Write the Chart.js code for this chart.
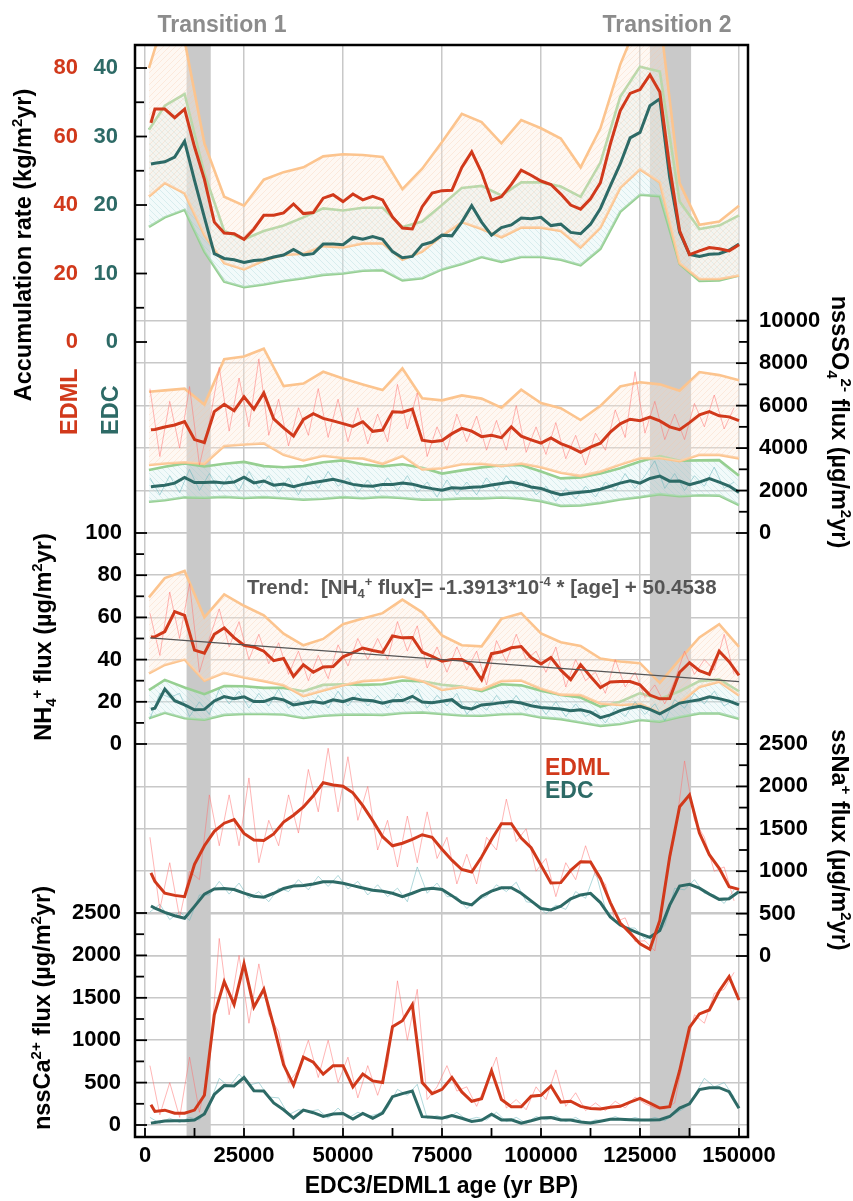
<!DOCTYPE html>
<html lang="en">
<head>
<meta charset="UTF-8" />
<title>EDML / EDC accumulation and ion fluxes</title>
<script src="https://cdn.jsdelivr.net/npm/chart.js@4"></script>
<style>
  body { margin: 0; background: #fff; }
</style>
</head>
<body>
<canvas id="fluxChart" width="853" height="1201"></canvas>
<script>
// ---- ages (yr BP) ----
const AGE = [1500, 2500, 5000, 7500, 10000, 12500, 15000, 17500, 20000, 22500,
  25000, 27500, 30000, 32500, 35000, 37500, 40000, 42500, 45000, 47500,
  50000, 52500, 55000, 57500, 60000, 62500, 65000, 67500, 70000, 72500,
  75000, 77500, 80000, 82500, 85000, 87500, 90000, 92500, 95000, 97500,
  100000, 102500, 105000, 107500, 110000, 112500, 115000, 117500, 120000, 122500,
  125000, 127500, 130000, 132500, 135000, 137500, 140000, 142500, 145000, 147500,
  150000];
const E_AGE = [1000, 5000, 10000, 15000, 20000, 25000, 30000, 35000, 40000, 45000,
  50000, 55000, 60000, 65000, 70000, 75000, 80000, 85000, 90000, 95000,
  100000, 105000, 110000, 115000, 120000, 125000, 130000, 135000, 140000, 145000, 150000];
const R_AGE = [1250, 3750, 6250, 8750, 11250, 13750, 16250, 18750, 21250, 23750,
  26250, 28750, 31250, 33750, 36250, 38750, 41250, 43750, 46250, 48750,
  51250, 53750, 56250, 58750, 61250, 63750, 66250, 68750, 71250, 73750,
  76250, 78750, 81250, 83750, 86250, 88750, 91250, 93750, 96250, 98750,
  101250, 103750, 106250, 108750, 111250, 113750, 116250, 118750, 121250, 123750,
  126250, 128750, 131250, 133750, 136250, 138750, 141250, 143750, 146250, 148750];

// ---- accumulation rate (EDML kg/m2yr, EDC kg/m2yr) ----
const ACC_EDML = [64, 68, 68, 65.5, 68, 57, 47.5, 35, 31.8, 31.6,
  30, 33, 37, 37, 37.7, 40.3, 37.5, 37.8, 42, 43,
  41, 43.2, 41.5, 42.5, 41.5, 36.5, 33.3, 33, 39.5, 43.5,
  44.2, 44.3, 51, 55.5, 49.5, 41.4, 42.4, 46, 50.2, 48.7,
  47, 46, 43.2, 40, 38.8, 41.8, 46.5, 57.8, 67.5, 72.6,
  73.7, 78, 73, 51, 32.5, 25.5, 26.6, 27.6, 27.2, 26.6,
  28.4];
const ACC_EDC = [26, 26.1, 26.3, 27, 29.3, 23.6, 18.2, 12.9, 12.2, 12,
  11.6, 11.9, 12, 12.4, 12.7, 13.5, 12.7, 12.9, 14.3, 14.3,
  14.2, 15.3, 15, 15.4, 15, 13.2, 12.3, 12.5, 14.2, 14.6,
  15.6, 15.5, 17.5, 19.9, 17.5, 15.6, 16.7, 17.1, 18.1, 18,
  18.2, 17, 17.2, 16, 15.8, 17.2, 19.5, 22.8, 26, 29.8,
  30.6, 34.5, 35.5, 24, 16, 12.8, 12.5, 12.8, 12.9, 13.4,
  14.3];
const ACC_ML_UP = [80, 95, 88, 58, 42.4, 39.8, 47.4, 49.6, 51, 54.2,
  54.8, 54.6, 54, 44.6, 50.6, 58.4, 66.6, 64.2, 58, 64.8,
  62.4, 59.4, 51, 62.4, 81, 95, 95, 46.4, 34.2, 35.2, 39.8];
const ACC_ML_LO = [42.5, 46.4, 43.4, 31.2, 23, 21.2, 23.8, 25.4, 25.8, 28,
  27.6, 28.8, 28.8, 24, 26.4, 31, 35, 33, 30.6, 33.4,
  33.4, 32.4, 27.6, 33.4, 45, 50.4, 46.6, 23, 18.4, 18.4, 19.4];
const ACC_DC_UP = [31, 34.5, 36.2, 24.6, 16.2, 15, 16.2, 17, 18.2, 19.5,
  19.2, 19.6, 19.6, 16.8, 17.6, 20, 22.5, 22.8, 21.4, 23.3,
  23.3, 22.7, 21.2, 26.2, 35.8, 40.2, 39.5, 20.5, 16.5, 17, 18.5];
const ACC_DC_LO = [16.8, 18.2, 19.3, 13.2, 8.8, 8, 8.4, 8.9, 9.3, 9.8,
  10, 10.4, 10.5, 9, 9.3, 10.6, 11.4, 12.4, 11.7, 12.4,
  12.4, 12, 11.2, 13.6, 19, 21.5, 21.3, 11.4, 8.9, 9, 9.7];

// ---- nssSO4 flux (ug/m2yr) ----
const SO4_ML = [4860, 4880, 4990, 5090, 5250, 4400, 4260, 5720, 6060, 5760,
  6420, 5830, 6600, 5380, 4950, 4570, 5350, 5620, 5400, 5280,
  5150, 5020, 5240, 4790, 4850, 5710, 5690, 5840, 4370, 4300,
  4360, 4680, 4930, 4800, 4540, 4600, 4490, 5000, 4560, 4390,
  4230, 4480, 4210, 4030, 3800, 4040, 4230, 4750, 5140, 5360,
  5290, 5460, 5280, 5000, 4870, 5200, 5570, 5720, 5520, 5470,
  5290];
const SO4_DC = [2180, 2200, 2250, 2350, 2620, 2380, 2380, 2400, 2360, 2400,
  2630, 2360, 2450, 2250, 2310, 2180, 2300, 2380, 2450, 2530,
  2420, 2290, 2230, 2200, 2290, 2290, 2360, 2300, 2180, 2090,
  2020, 2130, 2110, 2150, 2180, 2260, 2330, 2400, 2300, 2170,
  2100, 1930, 1800, 1870, 1920, 1970, 2060, 2200, 2350, 2460,
  2350, 2570, 2680, 2440, 2450, 2280, 2400, 2560, 2400, 2210,
  1914];
const SO4_ML_UP = [6650, 6720, 6800, 6050, 8190, 8310, 8680, 6920, 7040, 7594,
  7280, 7000, 6730, 7750, 6350, 6250, 6480, 6330, 5900, 6750,
  6120, 5880, 5320, 5990, 6900, 7100, 7000, 6700, 7580, 7437, 7200];
const SO4_ML_LO = [3200, 3270, 3330, 3260, 4100, 4170, 4220, 3680, 3420, 3640,
  3530, 3515, 3260, 3630, 2990, 3050, 3240, 3260, 3150, 3270,
  3100, 2840, 2690, 2900, 3220, 3520, 3530, 3380, 3680, 3680, 3515];
const SO4_DC_UP = [2965, 3120, 3280, 3130, 3260, 3350, 3150, 3100, 3150, 3330,
  3420, 3240, 3140, 3240, 3070, 2800, 2950, 3090, 3190, 3200,
  2900, 2573, 2620, 2800, 3050, 3370, 3620, 3400, 3420, 3430, 2700];
const SO4_DC_LO = [1475, 1540, 1680, 1660, 1700, 1650, 1690, 1640, 1570, 1610,
  1690, 1640, 1700, 1650, 1570, 1580, 1630, 1630, 1670, 1630,
  1500, 1280, 1300, 1420, 1580, 1690, 1830, 1730, 1780, 1760, 1320];
const SO4_ML_RAW = [6800, 3600, 6200, 4000, 6900, 3200, 5200, 7800, 4800, 7300,
  5000, 8200, 4600, 6300, 4100, 5900, 4600, 6800, 4500, 6300,
  4300, 5900, 4200, 5600, 4300, 7000, 4900, 6600, 3600, 5000,
  3900, 5600, 4300, 5500, 3900, 5300, 3900, 6000, 3800, 5000,
  3700, 5200, 3500, 4600, 3200, 4700, 3900, 5800, 4500, 7600,
  4700, 6200, 4400, 5600, 4400, 6100, 5000, 6500, 4900, 5900];
const SO4_DC_RAW = [2600, 1800, 2700, 1900, 3000, 2000, 2800, 2000, 2700, 2000,
  2900, 2100, 2700, 1900, 2600, 1800, 2700, 2100, 2900, 2200,
  2600, 1900, 2500, 1900, 2600, 2000, 2700, 1900, 2400, 1700,
  2500, 1800, 2400, 1800, 2600, 2000, 2700, 2100, 2500, 1800,
  2200, 1500, 2100, 1600, 2200, 1700, 2400, 2000, 2800, 2100,
  2700, 3400, 2100, 2800, 2000, 2700, 2200, 3100, 2100, 2400];

// ---- NH4 flux (ug/m2yr) ----
const NH4_ML = [50.7, 50.8, 53.3, 62.7, 61, 44.5, 43, 52, 55, 50.4,
  46.8, 46, 44, 39.5, 40.5, 32, 37.5, 34, 36.5, 36.7,
  41.3, 43.3, 45.5, 44.3, 43.4, 51.2, 50.3, 50.5, 43.5, 41.5,
  39.2, 40, 40.1, 37.5, 30.4, 42.8, 43.7, 45.6, 46.2, 41,
  37.9, 41, 35, 30.5, 37.6, 32, 26.7, 29.4, 29.6, 29.6,
  28, 23.2, 21.4, 21.5, 34, 38.5, 34.8, 33, 44, 39,
  32.5];
const NH4_DC = [16.5, 17, 26, 20.5, 18.5, 16.2, 16.4, 20.4, 22.5, 21.5,
  22.4, 20.1, 20.1, 21.8, 20.9, 18.5, 19.3, 20.1, 19.3, 20.9,
  20.1, 21.7, 20.8, 20.5, 19.3, 20.5, 20.6, 22.6, 19.9, 19.5,
  20.3, 21, 17.4, 16.6, 18.5, 18.9, 19.6, 20.1, 19.4, 18.1,
  17.3, 16.9, 16.6, 15.8, 16.2, 15.1, 12.5, 13.8, 15.8, 17.1,
  17.9, 16.4, 14.3, 16.8, 19.4, 20.2, 21, 22.4, 21.5, 20.3,
  18.5];
const NH4_ML_UP = [69.5, 78.6, 82, 60, 70.9, 65.5, 61, 52.3, 46.8, 49.8,
  56.8, 59.5, 62, 68.4, 62.4, 51.5, 46.8, 46.3, 59.3, 62,
  52.4, 48.2, 46.5, 40.5, 39.1, 38.3, 29, 40, 50.5, 56.8, 46];
const NH4_ML_LO = [33.5, 37.5, 40, 30, 33.7, 31.5, 29.8, 27.8, 22.7, 25.3,
  27.8, 29.8, 30.4, 32, 29.8, 25.6, 27, 25.8, 29.8, 30.1,
  26.2, 23.4, 23.2, 19.2, 18.5, 19, 14.7, 19.5, 27, 29.5, 23];
const NH4_DC_UP = [25.5, 30.4, 26.8, 23.6, 27.5, 27.4, 26.6, 26.6, 25, 28,
  28.3, 28, 28.3, 30.1, 29.7, 28.1, 27.2, 25, 28.3, 27.8,
  25.3, 23.2, 22, 17.7, 20, 24.1, 21.4, 25, 29.8, 30.6, 25];
const NH4_DC_LO = [12.2, 14.8, 12.2, 11.5, 13.8, 14.2, 14.2, 14, 12.3, 13.4,
  13.9, 14, 13.8, 14.7, 15, 14.2, 13.5, 13.4, 14.1, 14.3,
  12.6, 11.8, 10.2, 8.6, 9.5, 11.4, 10.6, 12.8, 14.5, 14.5, 12];
const NH4_ML_RAW = [62, 42, 72, 50, 76, 34, 50, 64, 46, 58,
  40, 52, 38, 48, 33, 44, 30, 42, 31, 47,
  37, 50, 40, 50, 40, 58, 44, 56, 36, 46,
  34, 46, 35, 44, 28, 49, 39, 52, 40, 44,
  34, 46, 27, 40, 30, 34, 24, 40, 27, 34,
  22, 28, 19, 30, 44, 33, 40, 35, 52, 33];
const NH4_DC_RAW = [12, 24, 22, 24, 13, 20, 14, 26, 19, 25,
  17, 24, 18, 26, 17, 21, 16, 23, 17, 25,
  18, 24, 18, 23, 17, 24, 19, 26, 17, 23,
  18, 24, 14, 20, 16, 23, 17, 23, 16, 21,
  14, 20, 13, 19, 13, 16, 10, 17, 13, 20,
  14, 19, 11, 21, 17, 24, 19, 25, 18, 21];
// linear trend of the NH4 flux, end points
const TREND_AGE = [1300, 150000];
const TREND = [50.27, 29.59];

// ---- ssNa flux (ug/m2yr) ----
const NA_ML = [980, 880, 740, 715, 700, 1080, 1300, 1470, 1566, 1608,
  1445, 1367, 1362, 1440, 1580, 1660, 1757, 1890, 2043, 2017,
  2002, 1925, 1773, 1596, 1407, 1300, 1330, 1375, 1430, 1400,
  1260, 1130, 1020, 990, 1167, 1375, 1560, 1560, 1390, 1277,
  1070, 860, 865, 1010, 1112, 1110, 915, 630, 390, 270,
  145, 80, 420, 1170, 1760, 1900, 1450, 1195, 1034, 817,
  786];
const NA_DC = [590, 565, 515, 475, 445, 585, 730, 790, 797, 784,
  742, 705, 694, 740, 797, 825, 832, 850, 875, 876,
  857, 830, 802, 776, 763, 740, 700, 740, 785, 798,
  785, 712, 630, 603, 705, 765, 805, 805, 740, 650,
  560, 543, 587, 675, 720, 739, 630, 460, 365, 310,
  260, 220, 300, 600, 825, 845, 800, 730, 668, 675,
  760];
const NA_ML_RAW = [1400, 550, 1100, 450, 1000, 900, 1900, 1300, 1900, 1300,
  2100, 1100, 1600, 1300, 1900, 1450, 2200, 1700, 2450, 1700,
  2350, 1600, 2000, 1250, 1600, 1050, 1650, 1100, 1700, 1150,
  1400, 850, 1200, 850, 1400, 1250, 1850, 1350, 1500, 1000,
  1150, 700, 1100, 900, 1300, 950, 850, 400, 450, 170,
  180, 60, 850, 1400, 2300, 1600, 1400, 1000, 1050, 650];
const NA_DC_RAW = [520, 610, 430, 520, 420, 720, 720, 880, 730, 860,
  680, 760, 640, 800, 760, 900, 780, 940, 820, 950,
  790, 880, 720, 840, 700, 800, 640, 1050, 740, 860,
  700, 700, 560, 660, 700, 840, 760, 870, 640, 620,
  500, 600, 550, 760, 680, 1000, 560, 420, 330, 330,
  200, 240, 360, 800, 780, 900, 740, 720, 620, 780];

// ---- nssCa flux (ug/m2yr) ----
const CA_ML = [240, 160, 175, 138, 140, 176, 350, 1300, 1690, 1420,
  1900, 1390, 1600, 1170, 710, 470, 800, 740, 600, 700,
  700, 450, 600, 520, 500, 1159, 1230, 1420, 500, 370,
  420, 560, 390, 280, 310, 640, 300, 215, 215, 340,
  350, 460, 270, 280, 220, 195, 190, 210, 220, 270,
  314, 258, 200, 216, 640, 1150, 1310, 1356, 1580, 1749,
  1474];
const CA_DC = [22, 30, 48, 51, 51, 58, 130, 360, 465, 460,
  560, 405, 400, 260, 180, 82, 175, 145, 100, 130,
  135, 70, 137, 80, 140, 334, 370, 400, 98, 90,
  80, 112, 79, 42, 57, 127, 60, 62, 22, 50,
  82, 89, 59, 59, 35, 24, 45, 67, 67, 63,
  59, 59, 62, 100, 200, 250, 418, 440, 440, 393,
  197];
const CA_ML_RAW = [700, 120, 500, 90, 800, 150, 700, 2200, 1300, 2000,
  1200, 1900, 1300, 1100, 500, 650, 1000, 560, 1000, 500,
  800, 320, 700, 350, 700, 1700, 1000, 1600, 300, 450,
  700, 400, 450, 220, 500, 800, 200, 300, 180, 450,
  300, 650, 220, 380, 170, 260, 170, 280, 200, 330,
  250, 200, 190, 260, 850, 1300, 1200, 1550, 1600, 1800];
const CA_DC_RAW = [90, 20, 80, 30, 90, 60, 250, 550, 450, 600,
  470, 500, 330, 320, 120, 180, 160, 180, 80, 200,
  80, 150, 100, 130, 200, 420, 350, 480, 80, 110,
  70, 150, 60, 90, 60, 150, 40, 90, 20, 100,
  60, 110, 40, 90, 20, 60, 50, 100, 50, 90,
  50, 90, 50, 130, 200, 350, 550, 450, 500, 330];

// ---- axes ----
const X_TICKS = [0, 25000, 50000, 75000, 100000, 125000, 150000];
const ACC_TICKS = [0, 10, 20, 30, 40];
const ACC_ML_TICKS = [0, 20, 40, 60, 80];
const SO4_TICKS = [0, 2000, 4000, 6000, 8000, 10000];
const NH4_TICKS = [0, 20, 40, 60, 80, 100];
const NA_TICKS = [0, 500, 1000, 1500, 2000, 2500];
const CA_TICKS = [0, 500, 1000, 1500, 2000, 2500];
const TRANSITIONS = [[10500, 16600], [127500, 137900]];

const FONT = '"Liberation Sans", Arial, Helvetica, sans-serif';
const RED = '#d1391b', TEAL = '#2d6a66';
const ORANGE = '#fcc48e', GREEN = '#96cf91';
const RED_RAW = 'rgba(255,110,110,0.5)', TEAL_RAW = 'rgba(100,180,186,0.5)';
const GRID = '#c8c8c8', BAND = '#c9c9c9';

const canvas = document.getElementById('fluxChart');
const ctx = canvas.getContext('2d');

// hatched fill for the uncertainty envelopes
function hatch(bg, stroke, flip) {
  const c = document.createElement('canvas');
  c.width = c.height = 6;
  const g = c.getContext('2d');
  g.fillStyle = bg;
  g.fillRect(0, 0, 6, 6);
  g.strokeStyle = stroke;
  g.lineWidth = 1;
  g.beginPath();
  if (flip) {
    g.moveTo(0, 0); g.lineTo(6, 6); g.moveTo(-1, 5); g.lineTo(1, 7); g.moveTo(5, -1); g.lineTo(7, 1);
  } else {
    g.moveTo(0, 6); g.lineTo(6, 0); g.moveTo(-1, 1); g.lineTo(1, -1); g.moveTo(5, 7); g.lineTo(7, 5);
  }
  g.stroke();
  return ctx.createPattern(c, 'repeat');
}
const FILL_ML = hatch('rgba(253,235,220,0.35)', 'rgba(247,195,160,0.28)', false);
const FILL_DC = hatch('rgba(218,240,242,0.35)', 'rgba(150,205,210,0.28)', true);

const pts = (ages, vals) => ages.map((a, i) => ({ x: a, y: vals[i] }));
function line(ages, vals, axis, color, width, order, extra) {
  return Object.assign({
    data: pts(ages, vals), yAxisID: axis, borderColor: color, borderWidth: width,
    pointRadius: 0, tension: 0, fill: false, order: order
  }, extra || {});
}
function envelope(up, lo, axis, color, fillStyle) {
  return [
    line(E_AGE, up, axis, color, 2.6, 4, { fill: '+1', backgroundColor: fillStyle }),
    line(E_AGE, lo, axis, color, 2.6, 4)
  ];
}

const datasets = [
  ...envelope(ACC_ML_UP, ACC_ML_LO, 'yAccML', ORANGE, FILL_ML),
  ...envelope(ACC_DC_UP, ACC_DC_LO, 'yAcc', GREEN, FILL_DC),
  ...envelope(SO4_ML_UP, SO4_ML_LO, 'ySO4', ORANGE, FILL_ML),
  ...envelope(SO4_DC_UP, SO4_DC_LO, 'ySO4', GREEN, FILL_DC),
  ...envelope(NH4_ML_UP, NH4_ML_LO, 'yNH4', ORANGE, FILL_ML),
  ...envelope(NH4_DC_UP, NH4_DC_LO, 'yNH4', GREEN, FILL_DC),
  line(R_AGE, SO4_ML_RAW, 'ySO4', RED_RAW, 1, 3),
  line(R_AGE, SO4_DC_RAW, 'ySO4', TEAL_RAW, 1, 3),
  line(R_AGE, NH4_ML_RAW, 'yNH4', RED_RAW, 1, 3),
  line(R_AGE, NH4_DC_RAW, 'yNH4', TEAL_RAW, 1, 3),
  line(R_AGE, NA_ML_RAW, 'yNa', RED_RAW, 1, 3),
  line(R_AGE, NA_DC_RAW, 'yNa', TEAL_RAW, 1, 3),
  line(R_AGE, CA_ML_RAW, 'yCa', RED_RAW, 1, 3),
  line(R_AGE, CA_DC_RAW, 'yCa', TEAL_RAW, 1, 3),
  line(AGE, ACC_EDML, 'yAccML', RED, 3, 1),
  line(AGE, ACC_EDC, 'yAcc', TEAL, 3, 1),
  line(AGE, SO4_ML, 'ySO4', RED, 3, 1),
  line(AGE, SO4_DC, 'ySO4', TEAL, 3, 1),
  line(AGE, NH4_ML, 'yNH4', RED, 3, 1),
  line(AGE, NH4_DC, 'yNH4', TEAL, 3, 1),
  line(AGE, NA_ML, 'yNa', RED, 3, 1),
  line(AGE, NA_DC, 'yNa', TEAL, 3, 1),
  line(AGE, CA_ML, 'yCa', RED, 3, 1),
  line(AGE, CA_DC, 'yCa', TEAL, 3, 1),
  line(TREND_AGE, TREND, 'yNH4', '#555555', 1.3, 0)
];

// every y axis spans the whole plot; min/max place each panel where it sits
function yScale(min, max, ticks, grid, position) {
  return {
    type: 'linear', min: min, max: max, position: position, display: grid,
    afterFit: s => { s.width = 0; },
    afterBuildTicks: s => { s.ticks = ticks.map(v => ({ value: v })); },
    ticks: { display: false },
    grid: { color: GRID, lineWidth: 1.5, drawTicks: false },
    border: { display: false }
  };
}

// text with sub/superscripts: segs = [[text, 0 normal | 1 sup | -1 sub], ...]
function rich(c, segs, x, y, size, align, color) {
  const small = Math.round(size * 0.62);
  const fontOf = k => `bold ${k ? small : size}px ${FONT}`;
  let w = 0;
  segs.forEach(([t, k]) => { c.font = fontOf(k); w += c.measureText(t).width; });
  let cx = align === 'center' ? x - w / 2 : align === 'right' ? x - w : x;
  c.fillStyle = color;
  c.textAlign = 'left';
  c.textBaseline = 'alphabetic';
  const base = y + size * 0.36;
  segs.forEach(([t, k]) => {
    c.font = fontOf(k);
    const dy = k === 1 ? -size * 0.4 : k === -1 ? size * 0.2 : 0;
    c.fillText(t, cx, base + dy);
    cx += c.measureText(t).width;
  });
}
function richRot(c, segs, x, y, size, align, color, angle) {
  c.save();
  c.translate(x, y);
  c.rotate(angle);
  rich(c, segs, 0, 0, size, align, color);
  c.restore();
}

const decor = {
  id: 'decor',
  beforeDatasetsDraw(chart) {
    const { ctx: c, chartArea: a, scales } = chart;
    c.save();
    c.fillStyle = BAND;
    TRANSITIONS.forEach(([s, e]) => {
      const x0 = scales.x.getPixelForValue(s), x1 = scales.x.getPixelForValue(e);
      c.fillRect(x0, a.top, x1 - x0, a.bottom - a.top);
    });
    c.restore();
  },
  afterDraw(chart) {
    const { ctx: c, chartArea: a, scales: s } = chart;
    c.save();
    c.strokeStyle = '#000';
    c.lineWidth = 2.5;
    c.strokeRect(a.left, a.top, a.right - a.left, a.bottom - a.top);

    // inward tick marks
    c.lineWidth = 1.8;
    const marks = (scale, top, step, major, side) => {
      for (let v = 0; v <= top + 1e-9; v += step) {
        const y = scale.getPixelForValue(v);
        const len = v % major === 0 ? 12 : 9;
        c.beginPath();
        if (side === 'left') { c.moveTo(a.left, y); c.lineTo(a.left + len, y); }
        else { c.moveTo(a.right, y); c.lineTo(a.right - len, y); }
        c.stroke();
      }
    };
    marks(s.yAcc, 40, 5, 10, 'left');
    marks(s.yNH4, 100, 10, 20, 'left');
    marks(s.yCa, 2500, 250, 500, 'left');
    marks(s.ySO4, 10000, 1000, 2000, 'right');
    marks(s.yNa, 2500, 250, 500, 'right');
    for (let v = 0; v <= 150000; v += 12500) {
      const px = s.x.getPixelForValue(v);
      c.beginPath(); c.moveTo(px, a.bottom); c.lineTo(px, a.bottom - 9); c.stroke();
    }

    // tick labels
    c.font = `bold 22px ${FONT}`;
    c.textBaseline = 'middle';
    const labels = (scale, values, x, align, color) => {
      c.textAlign = align;
      c.fillStyle = color;
      values.forEach(v => c.fillText(String(v), x, scale.getPixelForValue(v)));
    };
    labels(s.yAccML, ACC_ML_TICKS, 78, 'right', RED);
    labels(s.yAcc, ACC_TICKS, 118, 'right', TEAL);
    labels(s.yNH4, NH4_TICKS, 122, 'right', '#000');
    labels(s.yCa, CA_TICKS, 121, 'right', '#000');
    labels(s.ySO4, SO4_TICKS, 759, 'left', '#000');
    labels(s.yNa, NA_TICKS, 759, 'left', '#000');

    // axis titles
    const up = -Math.PI / 2, down = Math.PI / 2;
    richRot(c, [['Accumulation rate (kg/m', 0], ['2', 1], ['yr)', 0]], 23, 245, 23.5, 'center', '#000', up);
    richRot(c, [['EDML', 0]], 69, 435, 23.5, 'left', RED, up);
    richRot(c, [['EDC', 0]], 110, 435, 23.5, 'left', TEAL, up);
    richRot(c, [['nssSO', 0], ['4', -1], ['2-', 1], [' flux (\u00b5g/m', 0], ['2', 1], ['yr)', 0]], 840, 422, 23.5, 'center', '#000', down);
    richRot(c, [['NH', 0], ['4', -1], ['+', 1], [' flux (\u00b5g/m', 0], ['2', 1], ['yr)', 0]], 43, 637, 23.5, 'center', '#000', up);
    richRot(c, [['ssNa', 0], ['+', 1], [' flux (\u00b5g/m', 0], ['2', 1], ['yr)', 0]], 840, 840, 23.5, 'center', '#000', down);
    richRot(c, [['nssCa', 0], ['2+', 1], [' flux (\u00b5g/m', 0], ['2', 1], ['yr)', 0]], 42, 1008, 23.5, 'center', '#000', up);

    // annotations
    rich(c, [['Transition 1', 0]], 222, 24, 23, 'center', '#8c8c8c');
    rich(c, [['Transition 2', 0]], 667, 24, 23, 'center', '#8c8c8c');
    rich(c, [['Trend:  [NH', 0], ['4', -1], ['+', 1], [' flux]= -1.3913*10', 0], ['-4', 1], [' * [age] + 50.4538', 0]],
      247, 587, 20.5, 'left', '#555555');
    rich(c, [['EDML', 0]], 545, 767, 23, 'left', RED);
    rich(c, [['EDC', 0]], 545, 790, 23, 'left', TEAL);
    c.restore();
  }
};

new Chart(ctx, {
  type: 'line',
  data: { datasets: datasets },
  options: {
    responsive: false,
    animation: false,
    devicePixelRatio: 1,
    layout: { padding: { left: 135, right: 105, top: 45, bottom: 0 } },
    plugins: { legend: { display: false }, tooltip: { enabled: false } },
    scales: {
      x: {
        type: 'linear', min: -2525, max: 152270, position: 'bottom',
        afterBuildTicks: s => { s.ticks = X_TICKS.map(v => ({ value: v })); },
        afterFit: s => { s.height = 64; },
        ticks: {
          callback: v => String(v), color: '#000', padding: 6,
          maxRotation: 0, autoSkip: false, font: { family: FONT, size: 22, weight: 'bold' }
        },
        grid: { color: GRID, lineWidth: 1.5, drawTicks: false },
        border: { display: false },
        title: {
          display: true, text: 'EDC3/EDML1 age (yr BP)', color: '#000',
          font: { family: FONT, size: 23, weight: 'bold' }, padding: { top: 1, bottom: 1 }
        }
      },
      yAcc: yScale(-116.06, 43.36, ACC_TICKS, false, 'left'),
      yAccML: yScale(-232.12, 86.72, ACC_ML_TICKS, false, 'left'),
      ySO4: yScale(-28450, 22986, SO4_TICKS, true, 'right'),
      yNH4: yScale(-186.26, 331.28, NH4_TICKS, true, 'left'),
      yNa: yScale(-2134.4, 10743, NA_TICKS, true, 'right'),
      yCa: yScale(-141.5, 12736, CA_TICKS, true, 'left')
    }
  },
  plugins: [decor]
});
</script>
</body>
</html>
